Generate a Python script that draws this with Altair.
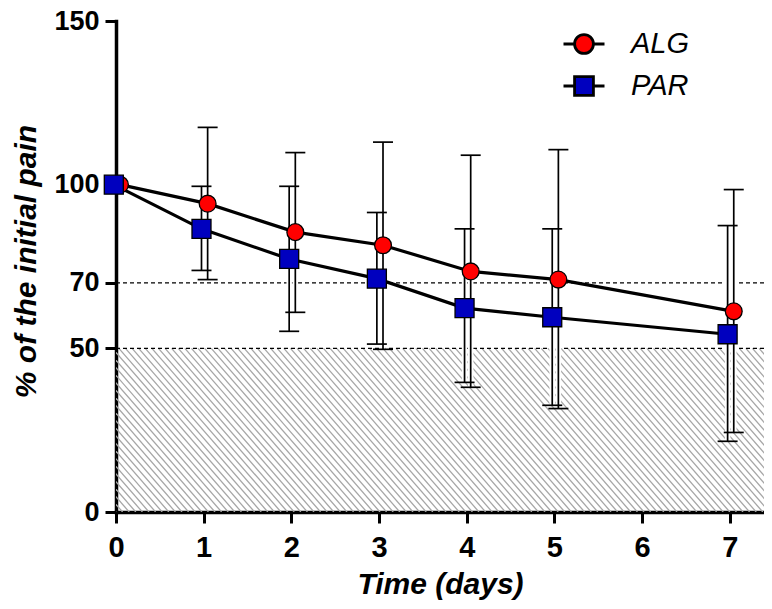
import altair as alt
import pandas as pd
import numpy as np

# ---- data ----
days = [0, 1, 2, 3, 4, 5, 7]
alg_mean = [100, 94.2, 85.5, 81.5, 73.5, 71.0, 61.3]
par_mean = [100, 86.5, 77.3, 71.3, 62.3, 59.5, 54.3]

err_days = [1, 2, 3, 4, 5, 7]
alg_hi = [117.5, 109.8, 113.0, 109.0, 110.7, 98.5]
alg_lo = [71.0, 61.0, 49.7, 38.1, 31.6, 24.3]
par_hi = [99.5, 99.5, 91.5, 86.5, 86.5, 87.5]
par_lo = [73.8, 55.2, 51.3, 39.6, 32.6, 21.6]

series_names = ["ALG", "PAR"]
series_colors = ["#FF0000", "#0000BF"]
offsets = {"ALG": 0.045, "PAR": -0.025}

ref_lines = [50, 70]
y_ticks = [0, 50, 70, 100, 150]
x_ticks = [0, 1, 2, 3, 4, 5, 6, 7]

# ---- layout constants ----
W, H = 648, 491
XMAX = 7.39
YMAX = 150

means = pd.DataFrame(
    [{"series": "ALG", "day": d, "x": d + offsets["ALG"], "mean": m} for d, m in zip(days, alg_mean)]
    + [{"series": "PAR", "day": d, "x": d + offsets["PAR"], "mean": m} for d, m in zip(days, par_mean)]
)
errs = pd.DataFrame(
    [{"series": "ALG", "x": d + offsets["ALG"], "lo": lo, "hi": hi} for d, lo, hi in zip(err_days, alg_lo, alg_hi)]
    + [{"series": "PAR", "x": d + offsets["PAR"], "lo": lo, "hi": hi} for d, lo, hi in zip(err_days, par_lo, par_hi)]
)

# hatch pattern (decoration) in data units
px_day = W / XMAX
px_unit = H / YMAX
slope = 1.15
dx = 50 * px_unit / slope / px_day
step = 6.6 / px_day
x0 = np.arange(-dx - step, XMAX + step, step)
hatch = pd.DataFrame({"x0": x0, "x1": x0 + dx, "ytop": 50.0, "ybot": 0.0})

xs = alt.Scale(domain=[0, XMAX], nice=False, zero=False)
ys = alt.Scale(domain=[0, YMAX], nice=False)

FONT = "Liberation Sans"

x_axis = alt.Axis(
    values=x_ticks, format="d", title="Time (days)", labelFontSize=29, labelFontWeight="bold",
    labelFont=FONT, labelPadding=10, tickSize=11, tickWidth=3, domainWidth=3.5,
    titleFont=FONT, titleFontSize=30, titleFontWeight="bold", titleFontStyle="italic",
    titleBaseline="alphabetic", titleY=81, labelFlush=False, grid=False,
)
y_axis = alt.Axis(
    values=y_ticks, format="d", title="% of the initial pain", labelFontSize=27, labelFontWeight="bold",
    labelFont=FONT, labelPadding=6, tickSize=11, tickWidth=3, domainWidth=3.5,
    titleFont=FONT, titleFontSize=30, titleFontWeight="bold", titleFontStyle="italic",
    titleAngle=-90, titleX=-90, titleY=240, titleBaseline="middle", titleAlign="center",
    labelFlush=False, grid=False,
)

hatch_layer = alt.Chart(hatch).mark_rule(clip=True, color="#a6a6a6", strokeWidth=1.3).encode(
    x=alt.X("x0:Q", scale=xs, axis=x_axis),
    x2="x1:Q",
    y=alt.Y("ytop:Q", scale=ys, axis=y_axis),
    y2="ybot:Q",
)

ref_layer = alt.Chart(pd.DataFrame({"ref": ref_lines})).mark_rule(
    color="black", strokeWidth=1.2, strokeDash=[4, 3]
).encode(y=alt.Y("ref:Q", scale=ys))

halo = alt.Chart(errs).mark_rule(color="white", strokeWidth=5.5).encode(
    x=alt.X("x:Q", scale=xs), y=alt.Y("lo:Q", scale=ys), y2="hi:Q"
)
err_rule = alt.Chart(errs).mark_rule(color="black", strokeWidth=1.7).encode(
    x=alt.X("x:Q", scale=xs), y=alt.Y("lo:Q", scale=ys), y2="hi:Q"
)
caps = alt.Chart(errs).transform_fold(["lo", "hi"], as_=["end", "val"]).mark_tick(
    orient="horizontal", size=20, thickness=1.7, color="black", opacity=1
).encode(x=alt.X("x:Q", scale=xs), y=alt.Y("val:Q", scale=ys))

lines = alt.Chart(means).mark_line(color="black", strokeWidth=3.2).encode(
    x=alt.X("x:Q", scale=xs), y=alt.Y("mean:Q", scale=ys), detail="series:N"
)

alg_pts = alt.Chart(means).transform_filter(alt.datum.series == "ALG").mark_point(
    shape="circle", filled=True, fill="#FF0000", stroke="black", strokeWidth=1.3, size=283, opacity=1
).encode(x=alt.X("x:Q", scale=xs), y=alt.Y("mean:Q", scale=ys))

par_pts = alt.Chart(means).transform_filter(alt.datum.series == "PAR").mark_point(
    shape="square", filled=True, fill="#0000BF", stroke="black", strokeWidth=1.3, size=361, opacity=1
).encode(x=alt.X("x:Q", scale=xs), y=alt.Y("mean:Q", scale=ys))

alg_path = "M-1,0L-0.46,0M0.46,0L1,0M0.46,0A0.46,0.46,0,1,1,-0.46,0A0.46,0.46,0,1,1,0.46,0Z"
par_path = "M-1,0L-0.46,0M0.46,0L1,0M-0.46,-0.46L0.46,-0.46L0.46,0.46L-0.46,0.46Z"

legend = alt.Legend(
    title=None, orient="none", legendX=446, legendY=1, padding=0,
    symbolSize=1681, symbolStrokeColor="black", symbolStrokeWidth=2.8, symbolOpacity=1,
    labelFont=FONT, labelFontSize=29, labelFontStyle="italic", labelColor="black",
    labelOffset=25, rowPadding=4,
)
legend_layer = alt.Chart(means).mark_point(
    filled=True, strokeWidth=2.8, opacity=0
).encode(
    x=alt.X("x:Q", scale=xs),
    y=alt.Y("mean:Q", scale=ys),
    color=alt.Color("series:N", scale=alt.Scale(domain=series_names, range=series_colors), legend=legend),
    shape=alt.Shape("series:N", scale=alt.Scale(domain=series_names, range=[alg_path, par_path]), legend=legend),
    stroke=alt.Stroke("series:N", scale=alt.Scale(domain=series_names, range=["black", "black"]), legend=legend),
)

chart = alt.layer(
    hatch_layer, ref_layer, halo, err_rule, caps, lines, alg_pts, par_pts, legend_layer
).properties(
    width=W, height=H,
    autosize=alt.AutoSizeParams(type="none"),
    padding={"left": 108, "top": 13, "right": 0, "bottom": 89},
).configure_view(strokeWidth=0).configure_axis(
    domainColor="black", tickColor="black", labelColor="black", titleColor="black", domainCap="square"
)

chart.save("out.html", embed_options={"renderer": "svg", "actions": False})
